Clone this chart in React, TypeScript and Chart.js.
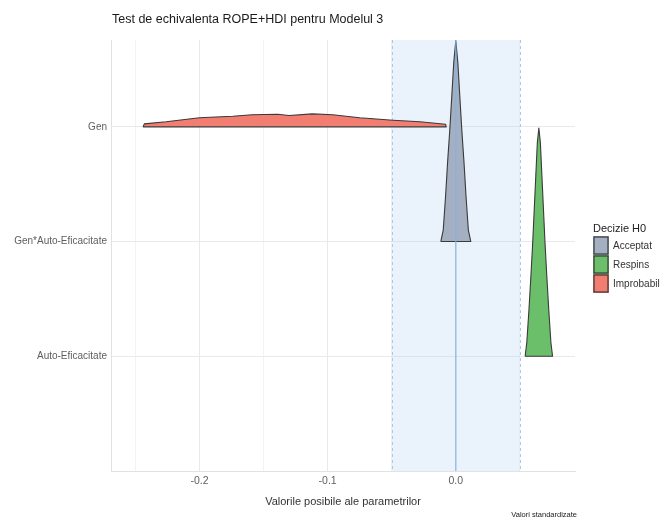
import React, { useEffect, useRef } from 'react';
import { Chart, registerables } from 'chart.js';

Chart.register(...registerables);

// ---- data ----
const chartTitle = 'Test de echivalenta ROPE+HDI pentru Modelul 3';
const xAxisTitle = 'Valorile posibile ale parametrilor';
const captionText = 'Valori standardizate';
const legendTitle = 'Decizie H0';

// y positions 1,2,3 (bottom to top)
const categories = ['Auto-Eficacitate', 'Gen*Auto-Eficacitate', 'Gen'];
const decisions = ['Acceptat', 'Respins', 'Improbabil'];
const decisionColors = ['#a4b0c1', '#6cbf6a', '#f27e72'];
const xTickLabels = [-0.2, -0.1, 0.0];
const ropeBounds = [-0.05, 0.05];

// density outlines: x values and heights above the category baseline
const genX = [-0.244, -0.243, -0.226, -0.2, -0.174, -0.159, -0.139, -0.13, -0.112, -0.096, -0.075, -0.049, -0.028, -0.008, -0.0075];
const genH = [0, 0.026, 0.044, 0.079, 0.092, 0.105, 0.11, 0.099, 0.113, 0.105, 0.079, 0.058, 0.044, 0.023, 0];

const genAutoX = [-0.0117, -0.0098, -0.008, -0.0064, -0.0047, -0.0031, -0.0016, 0.0, 0.0016, 0.0031, 0.0047, 0.0064, 0.008, 0.0098, 0.0117];
const genAutoH = [0, 0.1, 0.39, 0.69, 0.97, 1.27, 1.56, 1.75, 1.56, 1.27, 0.97, 0.69, 0.39, 0.1, 0];

const autoX = [0.0541, 0.0554, 0.0571, 0.0586, 0.06, 0.0612, 0.0624, 0.0636, 0.0648, 0.066, 0.0672, 0.0684, 0.0696, 0.071, 0.0725, 0.0742, 0.0755];
const autoH = [0, 0.12, 0.41, 0.7, 0.99, 1.28, 1.57, 1.86, 1.99, 1.86, 1.57, 1.28, 0.99, 0.7, 0.41, 0.12, 0];

const series = [
  { cat: 3, xs: genX, hs: genH, decision: 2 },
  { cat: 2, xs: genAutoX, hs: genAutoH, decision: 0 },
  { cat: 1, xs: autoX, hs: autoH, decision: 1 },
];

const FONT = '"Liberation Sans", Arial, "DejaVu Sans", sans-serif';
const OUTLINE = '#3a3a3a';

const isMajor = (v: number) => Math.abs(Math.round(v * 10) - v * 10) < 1e-6;

const overlayPlugin = {
  id: 'overlay',
  beforeDatasetsDraw(chart: any) {
    const { ctx, chartArea, scales } = chart;
    const x = scales.x;
    const l = x.getPixelForValue(ropeBounds[0]);
    const r = x.getPixelForValue(ropeBounds[1]);
    ctx.save();
    ctx.fillStyle = 'rgba(180, 210, 242, 0.28)';
    ctx.fillRect(l, chartArea.top, r - l, chartArea.bottom - chartArea.top);
    ctx.strokeStyle = '#a9c9ea';
    ctx.lineWidth = 1;
    ctx.setLineDash([3, 3]);
    for (const px of [l, r]) {
      ctx.beginPath();
      ctx.moveTo(Math.round(px) + 0.5, chartArea.top);
      ctx.lineTo(Math.round(px) + 0.5, chartArea.bottom);
      ctx.stroke();
    }
    ctx.restore();
  },
  afterDatasetsDraw(chart: any) {
    const { ctx, chartArea, scales } = chart;
    const z = scales.x.getPixelForValue(0);
    ctx.save();
    ctx.strokeStyle = 'rgba(130, 178, 226, 0.75)';
    ctx.lineWidth = 1.5;
    ctx.beginPath();
    ctx.moveTo(z, chartArea.top);
    ctx.lineTo(z, chartArea.bottom);
    ctx.stroke();
    ctx.restore();
  },
  afterDraw(chart: any) {
    const { ctx, chartArea } = chart;
    ctx.save();
    // title
    ctx.fillStyle = '#1a1a1a';
    ctx.font = `12.5px ${FONT}`;
    ctx.textAlign = 'left';
    ctx.textBaseline = 'middle';
    ctx.fillText(chartTitle, chartArea.left + 1, 20);
    // caption
    ctx.font = `7.5px ${FONT}`;
    ctx.textAlign = 'right';
    ctx.fillStyle = '#1a1a1a';
    ctx.fillText(captionText, chartArea.right + 2, 515);
    // legend
    const lx = 593;
    ctx.textAlign = 'left';
    ctx.font = `11px ${FONT}`;
    ctx.fillStyle = '#222';
    ctx.fillText(legendTitle, lx, 229);
    const keyH = 19;
    const keyW = 16;
    let ky = 236;
    ctx.font = `10px ${FONT}`;
    decisions.forEach((d, i) => {
      ctx.fillStyle = decisionColors[i];
      ctx.fillRect(lx, ky, keyW, keyH);
      ctx.strokeStyle = OUTLINE;
      ctx.lineWidth = 1.2;
      ctx.strokeRect(lx + 1, ky + 1, keyW - 2, keyH - 2);
      ctx.fillStyle = '#333';
      ctx.fillText(d, lx + keyW + 4, ky + keyH / 2 + 0.5);
      ky += keyH;
    });
    ctx.restore();
  },
};

export default function App() {
  const canvasRef = useRef<HTMLCanvasElement | null>(null);

  useEffect(() => {
    document.body.style.margin = '0';
    const canvas = canvasRef.current;
    if (!canvas) return;

    const datasets: any[] = [];
    series.forEach((s) => {
      const top = s.xs.map((x, i) => ({ x, y: s.cat + s.hs[i] }));
      const loop = [...top, top[0]];
      datasets.push({
        label: decisions[s.decision] + ' outline',
        data: loop,
        borderColor: OUTLINE,
        borderWidth: 1.1,
        fill: false,
        pointRadius: 0,
        tension: 0,
        borderJoinStyle: 'round',
      });
      datasets.push({
        label: decisions[s.decision],
        data: top,
        borderWidth: 0,
        borderColor: 'rgba(0,0,0,0)',
        backgroundColor: decisionColors[s.decision],
        fill: { value: s.cat },
        pointRadius: 0,
        tension: 0,
      });
    });

    const chart = new Chart(canvas, {
      type: 'line',
      data: { datasets },
      plugins: [overlayPlugin],
      options: {
        responsive: false,
        animation: false,
        events: [],
        layout: { padding: { left: 0, right: 91, top: 40, bottom: 0 } },
        plugins: {
          legend: { display: false },
          tooltip: { enabled: false },
          title: { display: false },
        },
        scales: {
          x: {
            type: 'linear',
            min: -0.269,
            max: 0.093,
            afterFit: (scale: any) => {
              scale.height = 49;
            },
            ticks: {
              stepSize: 0.05,
              includeBounds: false,
              autoSkip: false,
              maxRotation: 0,
              padding: 4,
              color: '#5e5e5e',
              font: { family: FONT, size: 10.5 },
              callback: (v: any) => {
                const n = Number(v);
                if (!isMajor(n)) return '';
                const hit = xTickLabels.find((t) => Math.abs(t - n) < 1e-6);
                return hit === undefined ? '' : hit.toFixed(1);
              },
            },
            grid: {
              drawTicks: false,
              color: (c: any) => (c.tick && isMajor(c.tick.value) ? '#e9e9e9' : '#f3f3f3'),
              lineWidth: 1,
            },
            border: { display: true, color: '#e2e2e2', width: 1 },
            title: {
              display: true,
              text: xAxisTitle,
              color: '#333',
              font: { family: FONT, size: 11 },
              padding: { top: 0, bottom: 11 },
            },
          },
          y: {
            type: 'linear',
            min: 0,
            max: 3.757,
            afterFit: (scale: any) => {
              scale.width = 111;
            },
            afterBuildTicks: (scale: any) => {
              scale.ticks = categories.map((_, i) => ({ value: i + 1 }));
            },
            ticks: {
              padding: 4,
              autoSkip: false,
              color: '#5e5e5e',
              font: { family: FONT, size: 10 },
              callback: (v: any) => categories[Math.round(Number(v)) - 1] ?? '',
            },
            grid: { drawTicks: false, color: '#e9e9e9', lineWidth: 1 },
            border: { display: true, color: '#e2e2e2', width: 1 },
          },
        },
      },
    });

    return () => chart.destroy();
  }, []);

  return (
    <div style={{ width: 666, height: 520, position: 'relative', background: '#fff' }}>
      <canvas ref={canvasRef} width={666} height={520} />
    </div>
  );
}
